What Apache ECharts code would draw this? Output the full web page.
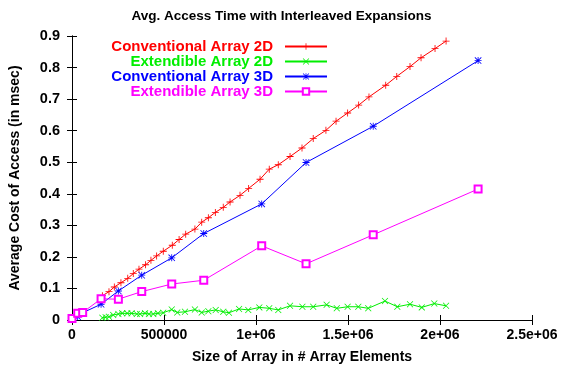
<!DOCTYPE html>
<html><head><meta charset="utf-8">
<script src="https://cdn.jsdelivr.net/npm/echarts@6/dist/echarts.min.js"></script>
<style>html,body{margin:0;padding:0;background:#fff}#c{width:563px;height:369px}</style>
</head><body><div id="c"></div>
<script>
const titleText = "Avg. Access Time with Interleaved Expansions";
const xName = "Size of Array in # Array Elements";
const yName = "Average Cost of Access (in msec)";
const seriesNames = ["Conventional Array 2D","Extendible Array 2D","Conventional Array 3D","Extendible Array 3D"];
const seriesColors = ["#ff0000","#00ee00","#0000ff","#ff00ff"];
const xTickLabels = ["0","500000","1e+06","1.5e+06","2e+06","2.5e+06"];

// Conventional Array 2D
const xConv2D = [165000,201000,230000,266000,303000,333000,364000,400000,429000,460000,496000,545000,582000,618000,668000,705000,741000,779000,822000,859000,913000,960000,1022000,1072000,1121000,1185000,1250000,1311000,1380000,1435000,1498000,1558000,1614000,1705000,1765000,1837000,1897000,1973000,2033000];
const conv2D = [0.077,0.0897,0.1046,0.118,0.132,0.147,0.161,0.175,0.189,0.203,0.218,0.237,0.255,0.272,0.288,0.31,0.324,0.341,0.357,0.374,0.395,0.417,0.446,0.478,0.492,0.518,0.545,0.575,0.601,0.63,0.656,0.681,0.707,0.744,0.772,0.803,0.831,0.86,0.884];

// Extendible Array 2D
const xExt2D = [165000,183000,201000,224000,252000,273000,300000,324000,352000,370000,397000,418000,442000,467000,496000,542000,572000,614000,668000,705000,741000,781000,822000,853000,908000,958000,1018000,1072000,1121000,1185000,1252000,1311000,1384000,1439000,1498000,1556000,1610000,1701000,1768000,1837000,1901000,1969000,2033000];
const ext2D = [0.007,0.009,0.01,0.016,0.019,0.021,0.021,0.021,0.019,0.019,0.021,0.019,0.019,0.021,0.023,0.033,0.024,0.026,0.033,0.024,0.028,0.032,0.026,0.023,0.035,0.032,0.04,0.037,0.032,0.045,0.042,0.042,0.048,0.037,0.042,0.042,0.037,0.06,0.042,0.05,0.04,0.052,0.045];

// 3D series (shared sizes)
const x3D = [0,31000,58000,158000,252000,379000,542000,716000,1031000,1272000,1637000,2207000];
const conv3D = [0.003,0.01,0.023,0.05,0.092,0.142,0.197,0.274,0.368,0.499,0.614,0.822];
const ext3D = [0.005,0.021,0.024,0.067,0.066,0.09,0.114,0.126,0.235,0.178,0.27,0.415];
</script>
<script>
const F = '"Liberation Sans", Arial, Helvetica, sans-serif';
const sym = {
  plus: 'path://M4.4,0h1.2v10h-1.2z M0,4.4h10v1.2h-10z',
  cross: 'path://M0.8,0L10,9.2L9.2,10L0,0.8z M9.2,0L10,0.8L0.8,10L0,9.2z',
  star: 'path://M4.4,0h1.2v10h-1.2z M0,4.4h10v1.2h-10z M0.8,0L10,9.2L9.2,10L0,0.8z M9.2,0L10,0.8L0.8,10L0,9.2z'
};
function pairs(xs, ys){ return xs.map((x,i)=>[x, ys[i]]); }

const chart = echarts.init(document.getElementById('c'), null, {renderer:'canvas'});
const axisLine = {show:true, lineStyle:{color:'#000', width:1}};
const tick = {show:true, inside:true, length:5, lineStyle:{color:'#000'}};
chart.setOption({
  animation:false,
  backgroundColor:'#fff',
  title:{text:titleText, left:'center', top:4, textStyle:{fontFamily:F, fontWeight:'bold', fontSize:13.5, color:'#000'}},
  grid:{left:72, right:31, top:36, bottom:49},
  legend:{
    orient:'vertical', align:'right', right:235, top:39, padding:0,
    itemWidth:42, itemHeight:8, itemGap:0,
    textStyle:{fontFamily:F, fontWeight:'bold', fontSize:15, lineHeight:15, height:15, padding:[0,7,0,0]},
    data: seriesNames.map((n,i)=>({name:n, textStyle:{color:seriesColors[i]}}))
  },
  xAxis:[{
    type:'value', min:0, max:2500000, interval:500000,
    axisLine, axisTick:tick, splitLine:{show:false},
    axisLabel:{formatter:(v)=>xTickLabels[Math.round(v/500000)], fontFamily:F, fontWeight:'bold', fontSize:14, color:'#000', margin:8},
    name:xName, nameLocation:'middle', nameGap:30,
    nameTextStyle:{fontFamily:F, fontWeight:'bold', fontSize:14, color:'#000'}
  },{
    type:'value', min:0, max:2500000, interval:500000, position:'top',
    axisLine, axisTick:tick, axisLabel:{show:false}, splitLine:{show:false}
  }],
  yAxis:[{
    type:'value', min:0, max:0.9, interval:0.1,
    axisLine, axisTick:tick, splitLine:{show:false},
    axisLabel:{formatter:(v)=> v===0 ? '0' : v.toFixed(1), fontFamily:F, fontWeight:'bold', fontSize:14.5, color:'#000', margin:12},
    name:yName, nameLocation:'middle', nameGap:50,
    nameTextStyle:{fontFamily:F, fontWeight:'bold', fontSize:14, color:'#000'}
  },{
    type:'value', min:0, max:0.9, interval:0.1, position:'right',
    axisLine, axisTick:tick, axisLabel:{show:false}, splitLine:{show:false}
  }],
  series:[
    {name:seriesNames[0], type:'line', data:pairs(xConv2D, conv2D), symbol:sym.plus, symbolSize:7,
     lineStyle:{color:seriesColors[0], width:1}, itemStyle:{color:seriesColors[0]}},
    {name:seriesNames[1], type:'line', data:pairs(xExt2D, ext2D), symbol:sym.cross, symbolSize:6.5,
     lineStyle:{color:seriesColors[1], width:1}, itemStyle:{color:seriesColors[1]}},
    {name:seriesNames[2], type:'line', data:pairs(x3D, conv3D), symbol:sym.star, symbolSize:7,
     lineStyle:{color:seriesColors[2], width:1}, itemStyle:{color:seriesColors[2]}},
    {name:seriesNames[3], type:'line', data:pairs(x3D, ext3D), symbol:'emptyRect', symbolSize:7,
     lineStyle:{color:seriesColors[3], width:1}, itemStyle:{color:seriesColors[3], borderColor:seriesColors[3], borderWidth:1}}
  ]
});
</script>
</body></html>
